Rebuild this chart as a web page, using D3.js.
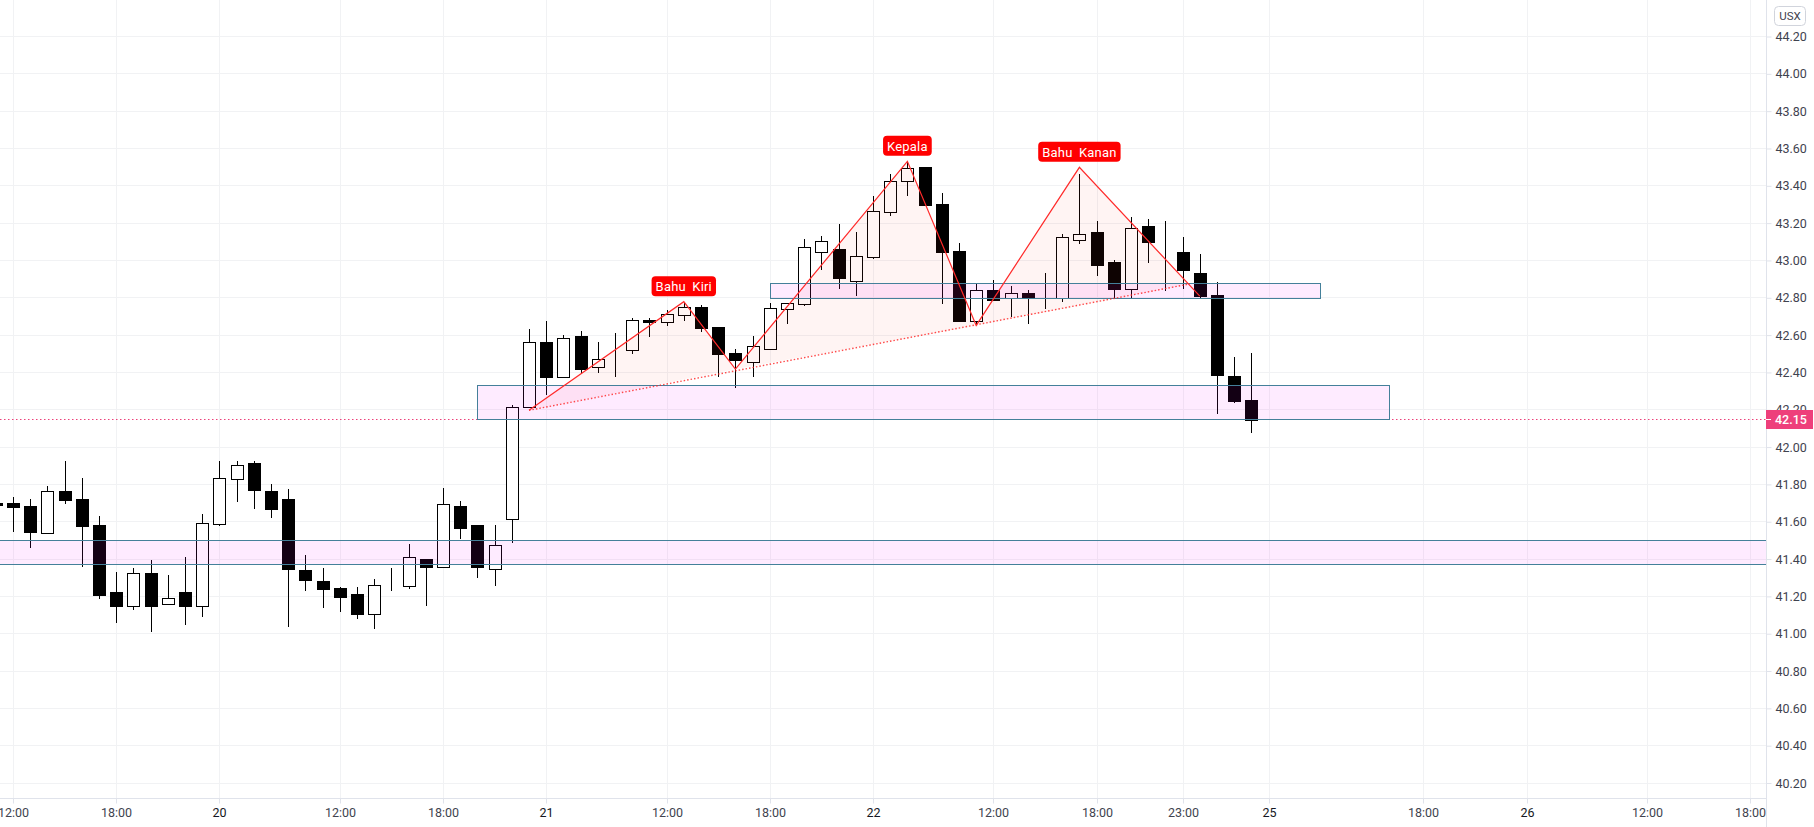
<!DOCTYPE html>
<html>
<head>
<meta charset="utf-8">
<script src="https://cdn.jsdelivr.net/npm/d3@7/dist/d3.min.js"></script>
<style>
html,body{margin:0;padding:0;background:#fff;overflow:hidden}
svg{display:block}
text{font-family:Roboto,"Liberation Sans",sans-serif}
</style>
</head>
<body>
<svg id="chart" width="1814" height="827"></svg>
<script>
// Bar index of each candle (hourly bars, visible sessions)
const barIndex = d3.range(-1, 73);
const opens = [41.70,41.70,41.684,41.541,41.764,41.721,41.582,41.223,41.150,41.325,41.160,41.223,41.150,41.589,41.830,41.914,41.764,41.721,
41.341,41.282,41.244,41.212,41.107,41.248,41.257,41.400,41.359,41.684,41.582,41.348,41.612,
42.213,42.561,42.377,42.593,42.431,42.524,42.522,42.679,42.672,42.709,42.750,42.643,42.504,42.458,42.527,
42.741,42.768,43.047,43.061,42.892,43.020,43.261,43.427,43.501,43.302,43.051,42.677,42.842,42.800,42.826,42.802,
42.800,43.111,43.152,42.992,42.849,43.185,43.043,43.045,42.933,42.815,42.381,42.252];
const closes = [41.69,41.679,41.545,41.763,41.716,41.577,41.207,41.148,41.323,41.148,41.189,41.148,41.591,41.832,41.902,41.770,41.668,41.346,
41.287,41.239,41.196,41.105,41.259,41.248,41.409,41.357,41.693,41.566,41.357,41.473,42.213,
42.561,42.375,42.583,42.418,42.470,42.524,42.679,42.670,42.711,42.750,42.638,42.499,42.466,42.540,42.743,
42.770,43.070,43.102,42.906,43.022,43.263,43.424,43.494,43.297,43.045,42.675,42.840,42.788,42.824,42.799,42.802,
43.124,43.140,42.976,42.847,43.172,43.099,43.043,42.949,42.809,42.386,42.247,42.145];
const highs = [41.70,41.732,41.721,41.791,41.925,41.834,41.630,41.330,41.352,41.395,41.314,41.411,41.641,41.925,41.925,41.925,41.802,41.775,
41.421,41.352,41.250,41.250,41.293,41.352,41.480,41.400,41.780,41.711,41.582,41.582,42.223,
42.633,42.675,42.600,42.622,42.563,42.611,42.692,42.692,42.734,42.775,42.761,42.643,42.525,42.595,42.772,
42.772,43.115,43.131,43.195,43.152,43.345,43.463,43.531,43.501,43.361,43.093,42.874,42.895,42.863,42.842,42.933,
43.142,43.463,43.211,43.002,43.233,43.222,43.211,43.126,43.034,42.884,42.482,42.504];
const lows = [41.69,41.545,41.459,41.541,41.695,41.357,41.186,41.057,41.127,41.009,41.160,41.046,41.089,41.577,41.705,41.668,41.620,41.036,
41.228,41.137,41.116,41.078,41.025,41.228,41.239,41.148,41.359,41.507,41.298,41.255,41.486,
42.213,42.279,42.377,42.392,42.397,42.375,42.499,42.590,42.649,42.675,42.617,42.375,42.316,42.375,42.522,
42.659,42.756,42.949,42.847,42.809,43.008,43.238,43.345,43.297,42.767,42.675,42.654,42.788,42.697,42.659,42.740,
42.777,43.088,42.917,42.797,42.797,42.986,42.836,42.847,42.799,42.177,42.236,42.075];

// Axis ticks
const priceTicks = d3.range(0, 21).map(i => +(44.2 - i * 0.2).toFixed(2));
const timeTickBars = [0,6,12,19,25,31,38,44,50,57,63,68,73,82,88,95,101];
const timeTickLabels = ["12:00","18:00","20","12:00","18:00","21","12:00","18:00","22","12:00","18:00","23:00","25","18:00","26","12:00","18:00"];
const lastPrice = 42.15;

// Rectangles drawn on the chart: [first bar, last bar, top price, bottom price]; null bar = full width
const zoneStartBars = [null, 27, 44];
const zoneEndBars = [null, 80, 76];
const zoneTops = [41.50, 42.331, 42.875];
const zoneBottoms = [41.372, 42.15, 42.797];

// Head and shoulders drawing
const patternBars = [30,39,42,52,56,62,69];
const patternPrices = [42.197,42.779,42.418,43.531,42.652,43.499,42.809];
const necklineBars = [30,68.4];
const necklinePrices = [42.197,42.874];
const patternLabels = ["Bahu Kiri","Kepala","Bahu Kanan"];
const patternLabelPoints = [1,3,5];

const plotRight = 1766, plotBottom = 798.5;
const x = d3.scaleLinear().domain([0,101]).range([13,1750.2]);
const y = d3.scaleLinear().domain([44.2,40.2]).range([36.5,783]);
const sx = v => Math.round(x(v)) + 0.5;
const sy = v => Math.round(y(v)) + 0.5;

const svg = d3.select("#chart");
const defs = svg.append("defs");
defs.append("clipPath").attr("id","plot").append("rect")
  .attr("x",0).attr("y",0).attr("width",plotRight).attr("height",plotBottom);
const plot = svg.append("g").attr("clip-path","url(#plot)");

// Gridlines
const gridColor = "#f1f2f4";
plot.append("g").selectAll("line").data(priceTicks).join("line")
  .attr("x1",0).attr("x2",plotRight)
  .attr("y1",d=>Math.floor(y(d))+0.5).attr("y2",d=>Math.floor(y(d))+0.5)
  .attr("stroke",gridColor);
plot.append("g").selectAll("line").data(timeTickBars).join("line")
  .attr("x1",sx).attr("x2",sx).attr("y1",0).attr("y2",plotBottom)
  .attr("stroke",gridColor);

// Last price line
plot.append("line").attr("x1",0).attr("x2",plotRight)
  .attr("y1",Math.floor(y(lastPrice))+0.5).attr("y2",Math.floor(y(lastPrice))+0.5)
  .attr("stroke","#ec407a").attr("stroke-dasharray","1.5 2.5");

// Candles
const candles = barIndex.map((b,i)=>({b,o:opens[i],c:closes[i],h:highs[i],l:lows[i]}));
const cg = plot.append("g");
cg.selectAll("line").data(candles).join("line")
  .attr("x1",d=>sx(d.b)).attr("x2",d=>sx(d.b))
  .attr("y1",d=>Math.round(y(d.h))).attr("y2",d=>Math.round(y(d.l)))
  .attr("stroke","#000");
cg.selectAll("rect").data(candles).join("rect")
  .attr("x",d=>sx(d.b)-6)
  .attr("width",12)
  .attr("y",d=>sy(Math.max(d.o,d.c)))
  .attr("height",d=>Math.max(0,sy(Math.min(d.o,d.c))-sy(Math.max(d.o,d.c))))
  .attr("fill",d=>d.c>d.o?"#fff":"#000")
  .attr("stroke","#000");

// Pattern fill
const patPt = patternBars.map((b,i)=>[x(b),y(patternPrices[i])]);
const neckPt = necklineBars.map((b,i)=>[x(b),y(necklinePrices[i])]);
const fills = [[patPt[0],patPt[1],patPt[2]],[patPt[2],patPt[3],patPt[4]],[patPt[4],patPt[5],neckPt[1]]];
plot.append("g").selectAll("path").data(fills).join("path")
  .attr("d",d=>d3.line()(d)+"Z").attr("fill","rgba(255,60,40,0.055)");

// Zones
const zones = zoneTops.map((t,i)=>({s:zoneStartBars[i],e:zoneEndBars[i],t,b:zoneBottoms[i]}));
plot.append("g").selectAll("rect").data(zones).join("rect")
  .attr("x",d=>d.s===null?-5:sx(d.s))
  .attr("width",d=>d.s===null?plotRight+10:sx(d.e)-sx(d.s))
  .attr("y",d=>Math.floor(y(d.t))+0.5)
  .attr("height",d=>Math.floor(y(d.b))-Math.floor(y(d.t)))
  .attr("fill","rgba(240,0,250,0.08)")
  .attr("stroke","#44809a");

// Pattern lines
plot.append("path").attr("d",d3.line()(neckPt)).attr("fill","none")
  .attr("stroke","rgba(255,30,30,0.8)").attr("stroke-width",1.4).attr("stroke-dasharray","1.5 2");
plot.append("path").attr("d",d3.line()(patPt)).attr("fill","none")
  .attr("stroke","#ff2a2a").attr("stroke-width",1.2);

// Pattern labels
patternLabels.forEach((t,i)=>{
  const p = patPt[patternLabelPoints[i]];
  const g = plot.append("g");
  const r = g.append("rect").attr("rx",4).attr("ry",4).attr("fill","#ff0000");
  const tx = g.append("text").text(t).attr("x",p[0]).attr("y",p[1]-10.5)
    .attr("text-anchor","middle").attr("fill","#fff")
    .attr("font-size",13).attr("letter-spacing",0.2).attr("word-spacing",3);
  const w = tx.node().getComputedTextLength()+8;
  r.attr("x",p[0]-w/2).attr("width",w).attr("y",p[1]-25.5).attr("height",20);
});

// Axes
const axisColor = "#e0e3eb", textColor = "#3f434f";
svg.append("line").attr("x1",0).attr("x2",plotRight).attr("y1",plotBottom).attr("y2",plotBottom).attr("stroke",axisColor);
svg.append("line").attr("x1",plotRight+0.5).attr("x2",plotRight+0.5).attr("y1",0).attr("y2",827).attr("stroke",axisColor);

const yAxis = d3.axisRight(y).tickValues(priceTicks).tickFormat(d3.format(".2f")).tickSize(5).tickPadding(4);
const yg = svg.append("g").attr("transform",`translate(${plotRight+0.5},0)`).call(yAxis);
yg.select(".domain").remove();
yg.selectAll(".tick line").attr("stroke",axisColor);
yg.selectAll(".tick text").attr("fill",textColor).attr("font-size",12.5).attr("font-family","Roboto");

const xAxis = d3.axisBottom(x).tickValues(timeTickBars).tickFormat((d,i)=>timeTickLabels[i]).tickSize(5).tickPadding(5);
const xg = svg.append("g").attr("transform",`translate(0,${plotBottom})`).call(xAxis);
xg.select(".domain").remove();
xg.selectAll(".tick").attr("transform",d=>`translate(${sx(d)},0)`);
xg.selectAll(".tick line").attr("x1",0).attr("x2",0).attr("stroke",axisColor);
xg.selectAll(".tick text").attr("fill",(d,i)=>timeTickLabels[i].includes(":")?textColor:"#131722")
  .attr("font-size",12.5).attr("font-family","Roboto");

// Last price tag
const tagY = Math.floor(y(lastPrice));
svg.append("rect").attr("x",plotRight).attr("y",tagY-9).attr("width",47).attr("height",19).attr("fill","#ee3f7b");
svg.append("line").attr("x1",plotRight).attr("x2",plotRight+5).attr("y1",tagY+0.5).attr("y2",tagY+0.5).attr("stroke","#fff");
svg.append("text").text(lastPrice.toFixed(2)).attr("x",plotRight+9).attr("y",tagY+5)
  .attr("fill","#fff").attr("font-size",12.5).attr("font-weight",500);

// Currency button
svg.append("rect").attr("x",1774.5).attr("y",6.5).attr("width",31).attr("height",19).attr("rx",4)
  .attr("fill","#fff").attr("stroke","#d1d4dc");
svg.append("text").text("USX").attr("x",1790).attr("y",20).attr("text-anchor","middle")
  .attr("fill",textColor).attr("font-size",11.5);
</script>
</body>
</html>
